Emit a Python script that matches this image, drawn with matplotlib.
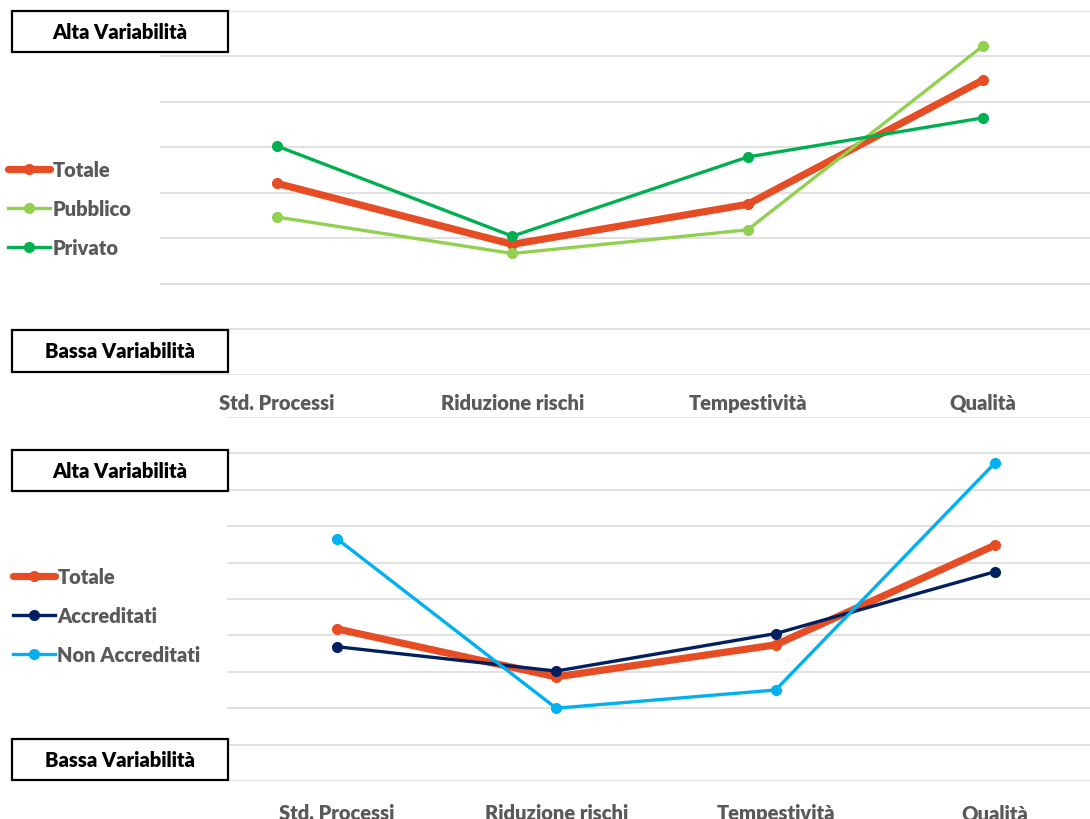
import matplotlib
matplotlib.use("Agg")
import matplotlib.pyplot as plt
from matplotlib.patches import Rectangle

plt.rcParams['font.family'] = ['Lato', 'DejaVu Sans']

categorie = ['Std. Processi', 'Riduzione rischi', 'Tempestività', 'Qualità']

# pannello superiore: pubblico / privato
top_totale = [4.20, 2.86, 3.74, 6.47]
top_pubblico = [3.46, 2.66, 3.18, 7.22]
top_privato = [5.02, 3.04, 4.78, 5.64]

# pannello inferiore: accreditati / non accreditati
bot_totale = [4.18, 2.86, 3.74, 6.48]
bot_accreditati = [3.69, 3.02, 4.05, 5.75]
bot_non_accreditati = [6.66, 2.00, 2.50, 8.74]

C_TOT = '#E64D24'
C_PUB = '#92D050'
C_PRI = '#00B050'
C_ACC = '#002060'
C_NON = '#00B0F0'
GREY_TXT = '#595959'

W, H = 1090, 820
fig = plt.figure(figsize=(W / 100, H / 100), dpi=100)


def px_axes(left, right, top, bottom):
    return fig.add_axes([left / W, 1 - bottom / H, (right - left) / W, (bottom - top) / H])


def style_axes(ax, n_grid, pad):
    x = range(len(categorie))
    ax.set_xlim(-0.5, len(categorie) - 0.5)
    ax.set_ylim(0, n_grid)
    ax.set_yticks(range(n_grid + 1))
    ax.set_xticks(list(x))
    ax.set_xticklabels(categorie, fontsize=14.5, fontweight='heavy', color=GREY_TXT)
    ax.tick_params(axis='x', length=0, pad=pad)
    ax.tick_params(axis='y', length=0, labelleft=False)
    ax.grid(axis='y', color='#D9D9D9', linewidth=1.1)
    ax.set_axisbelow(True)
    for s in ax.spines.values():
        s.set_visible(False)
    ax.patch.set_alpha(0)


def add_box(text, left, right, top, bottom):
    rect = Rectangle((left / W, 1 - bottom / H), (right - left) / W, (bottom - top) / H,
                     transform=fig.transFigure, facecolor='white', edgecolor='black',
                     linewidth=1.6, zorder=5)
    fig.add_artist(rect)
    fig.text((left + right) / 2 / W, 1 - (top + bottom) / 2 / H, text,
             ha='center', va='center', fontsize=14.5, fontweight='heavy',
             color='black', zorder=6)


def add_legend(ax, x0, yc):
    leg = fig.legend(handles=ax.get_lines(), loc='center left',
                     bbox_to_anchor=(x0 / W, 1 - yc / H), frameon=False,
                     fontsize=14.5, handlelength=2.1, handletextpad=0.1,
                     labelspacing=1.0, borderpad=0, borderaxespad=0)
    for t in leg.get_texts():
        t.set_color(GREY_TXT)
        t.set_fontweight('heavy')


x = list(range(len(categorie)))

# --- pannello superiore ---
ax1 = px_axes(159.5, 1100.5, 11.5, 375.5)
style_axes(ax1, 8, 13)
ax1.plot(x, top_totale, color=C_TOT, lw=5.2, marker='o', ms=7, label='Totale',
         solid_capstyle='round', solid_joinstyle='round')
ax1.plot(x, top_pubblico, color=C_PUB, lw=2.4, marker='o', ms=7, label='Pubblico')
ax1.plot(x, top_privato, color=C_PRI, lw=2.4, marker='o', ms=7, label='Privato')
add_legend(ax1, 8, 209.5)
add_box('Alta Variabilità', 12, 227.5, 12, 53)
add_box('Bassa Variabilità', 12, 227.5, 331, 373)

# --- pannello inferiore ---
ax2 = px_axes(227, 1104.75, 418, 782)
style_axes(ax2, 10, 16)
ax2.plot(x, bot_totale, color=C_TOT, lw=5.2, marker='o', ms=7, label='Totale',
         solid_capstyle='round', solid_joinstyle='round')
ax2.plot(x, bot_accreditati, color=C_ACC, lw=2.4, marker='o', ms=7, label='Accreditati')
ax2.plot(x, bot_non_accreditati, color=C_NON, lw=2.4, marker='o', ms=7, label='Non Accreditati')
add_legend(ax2, 13, 616.5)
add_box('Alta Variabilità', 12, 227.5, 451, 492)
add_box('Bassa Variabilità', 12, 227.5, 740, 781)

fig.savefig('out.png', dpi=100, facecolor='white')
